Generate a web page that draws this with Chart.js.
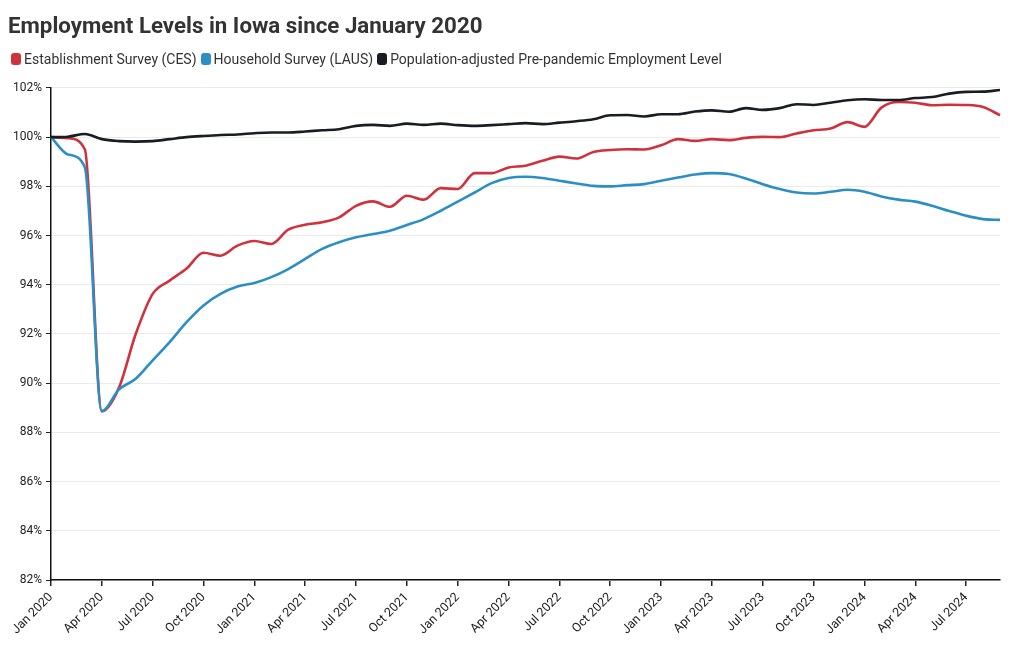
<!DOCTYPE html>
<html>
<head>
<meta charset="utf-8">
<script src="https://cdn.jsdelivr.net/npm/chart.js@4"></script>
<style>
html,body{margin:0;padding:0;background:#fff;}
#wrap{width:1020px;height:650px;position:relative;}
#legend{position:absolute;left:11px;top:49px;height:20px;display:flex;align-items:center;font-family:Roboto,'Noto Sans',sans-serif;font-size:14px;line-height:20px;color:#333;white-space:nowrap;}
#legend .item{display:flex;align-items:center;margin-right:4px;}
#legend .box{width:10px;height:12px;border-radius:3px;margin-right:3px;}
</style>
</head>
<body>
<div id="wrap"><canvas id="c" width="1020" height="650"></canvas><div id="legend"></div></div>
<script>
const monthLabels = [
 "Jan 2020","Feb 2020","Mar 2020","Apr 2020","May 2020","Jun 2020","Jul 2020","Aug 2020","Sep 2020","Oct 2020","Nov 2020","Dec 2020",
 "Jan 2021","Feb 2021","Mar 2021","Apr 2021","May 2021","Jun 2021","Jul 2021","Aug 2021","Sep 2021","Oct 2021","Nov 2021","Dec 2021",
 "Jan 2022","Feb 2022","Mar 2022","Apr 2022","May 2022","Jun 2022","Jul 2022","Aug 2022","Sep 2022","Oct 2022","Nov 2022","Dec 2022",
 "Jan 2023","Feb 2023","Mar 2023","Apr 2023","May 2023","Jun 2023","Jul 2023","Aug 2023","Sep 2023","Oct 2023","Nov 2023","Dec 2023",
 "Jan 2024","Feb 2024","Mar 2024","Apr 2024","May 2024","Jun 2024","Jul 2024","Aug 2024","Sep 2024"
];

const cesValues = [
 100.0, 99.96, 99.5, 88.86, 89.8, 92.0, 93.63, 94.17, 94.66, 95.3, 95.18, 95.59,
 95.78, 95.66, 96.24, 96.44, 96.54, 96.74, 97.21, 97.39, 97.17, 97.62, 97.46, 97.93,
 97.89, 98.54, 98.54, 98.77, 98.84, 99.04, 99.21, 99.13, 99.40, 99.48, 99.51, 99.50,
 99.67, 99.92, 99.85, 99.92, 99.88, 99.97, 100.01, 100.0, 100.15, 100.28, 100.35, 100.61,
 100.42, 101.2, 101.43, 101.4, 101.3, 101.32, 101.31, 101.23, 100.89
];

const lausValues = [
 100.0, 99.3, 98.77, 88.86, 89.74, 90.18, 90.93, 91.67, 92.48, 93.16, 93.63, 93.93,
 94.07, 94.31, 94.64, 95.05, 95.46, 95.73, 95.93, 96.06, 96.2, 96.43, 96.67, 97.01,
 97.38, 97.75, 98.13, 98.34, 98.39, 98.34, 98.23, 98.12, 98.02, 98.0, 98.05, 98.09,
 98.23, 98.36, 98.48, 98.54, 98.50, 98.32, 98.09, 97.89, 97.75, 97.71, 97.78, 97.86,
 97.78, 97.59, 97.46, 97.38, 97.21, 97.0, 96.81, 96.67, 96.64
];

const popAdjValues = [
 100.0, 100.02, 100.13, 99.92, 99.84, 99.82, 99.84, 99.92, 100.0, 100.05, 100.09, 100.11,
 100.16, 100.19, 100.19, 100.23, 100.28, 100.32, 100.46, 100.5, 100.46, 100.55, 100.5, 100.55,
 100.49, 100.46, 100.49, 100.53, 100.57, 100.53, 100.59, 100.65, 100.73, 100.89, 100.9, 100.84,
 100.93, 100.93, 101.04, 101.09, 101.03, 101.18, 101.11, 101.18, 101.34, 101.31, 101.40, 101.5,
 101.54, 101.51, 101.51, 101.59, 101.63, 101.77, 101.84, 101.85, 101.92
];

const seriesNames = ["Establishment Survey (CES)", "Household Survey (LAUS)", "Population-adjusted Pre-pandemic Employment Level"];
const seriesColors = ["#d0323d", "#2b8fc6", "#191d23"];

const FONT = "Roboto, 'Noto Sans', sans-serif";

// HTML legend built from the series arrays
const legendEl = document.getElementById('legend');
seriesNames.forEach((name, i) => {
  const item = document.createElement('span');
  item.className = 'item';
  const box = document.createElement('span');
  box.className = 'box';
  box.style.background = seriesColors[i];
  const txt = document.createElement('span');
  txt.textContent = name;
  item.appendChild(box);
  item.appendChild(txt);
  legendEl.appendChild(item);
});

new Chart(document.getElementById('c'), {
  type: 'line',
  data: {
    labels: monthLabels,
    datasets: [
      {label: seriesNames[0], data: cesValues, borderColor: seriesColors[0], backgroundColor: seriesColors[0], order: 3},
      {label: seriesNames[1], data: lausValues, borderColor: seriesColors[1], backgroundColor: seriesColors[1], order: 2},
      {label: seriesNames[2], data: popAdjValues, borderColor: seriesColors[2], backgroundColor: seriesColors[2], order: 1}
    ].map(d => Object.assign(d, {borderWidth: 2.6, pointRadius: 0, pointHoverRadius: 0, cubicInterpolationMode: 'monotone', fill: false}))
  },
  options: {
    responsive: false,
    animation: false,
    events: [],
    layout: {padding: {left: 8, right: 20, top: 8, bottom: 0}},
    plugins: {
      tooltip: {enabled: false},
      legend: {display: false},
      title: {
        display: true,
        text: 'Employment Levels in Iowa since January 2020',
        align: 'start',
        color: '#333333',
        font: {family: FONT, size: 22.3, weight: 'bold'},
        padding: {top: 6, bottom: 47.2}
      }
    },
    scales: {
      x: {
        type: 'category',
        offset: false,
        afterFit: s => { s.height = 70; },
        grid: {
          drawOnChartArea: false,
          tickLength: 6,
          color: ctx => (ctx.index % 3 === 0 ? '#222222' : 'rgba(0,0,0,0)'),
          lineWidth: 1.5
        },
        border: {display: true, color: '#111111', width: 1.5},
        ticks: {
          autoSkip: false,
          minRotation: 45,
          maxRotation: 45,
          color: '#222222',
          font: {family: FONT, size: 12.5},
          padding: 4,
          callback: function(v, i) { return i % 3 === 0 ? monthLabels[i] : ''; }
        }
      },
      y: {
        min: 82,
        max: 102,
        afterFit: s => { s.width = 43; },
        grid: {color: '#ebebeb', tickColor: '#222222', tickLength: 5, lineWidth: 1},
        border: {display: true, color: '#111111', width: 1.5},
        ticks: {
          stepSize: 2,
          color: '#222222',
          font: {family: FONT, size: 12},
          padding: 4,
          callback: v => v + '%'
        }
      }
    }
  }
});
</script>
</body>
</html>
